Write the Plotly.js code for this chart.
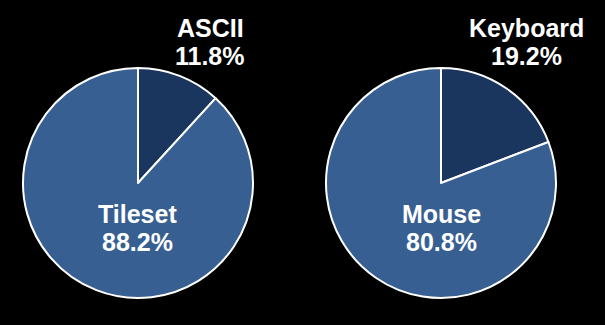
<!DOCTYPE html>
<html><head><meta charset="utf-8">
<script src="https://cdn.plot.ly/plotly-3.0.1.min.js"></script>
<style>html,body{margin:0;padding:0;background:#000;}</style>
</head><body><div id="chart" style="width:605px;height:325px;"></div>
<script>
const leftLabels = ['ASCII', 'Tileset'];
const leftValues = [11.8, 88.2];
const rightLabels = ['Keyboard', 'Mouse'];
const rightValues = [19.2, 80.8];
const sliceColors = ['#1b365e', '#385f91'];

const W = 605, H = 325;
const FONT = {family: 'Liberation Sans, Arial, sans-serif', size: 25, color: '#ffffff', weight: 'bold'};

function pie(labels, values, domain) {
  return {
    type: 'pie', labels: labels, values: values, sort: false,
    direction: 'clockwise', rotation: 0, domain: domain,
    textinfo: 'none',
    marker: {colors: sliceColors, line: {color: '#ffffff', width: 2}},
    automargin: false, showlegend: false, hoverinfo: 'none'
  };
}
const data = [
  pie(leftLabels, leftValues, {x: [0.03802, 0.41818], y: [0.08308, 0.79077]}),
  pie(rightLabels, rightValues, {x: [0.53884, 0.91901], y: [0.08308, 0.79077]})
];

function pct(values, i) {
  const s = values.reduce((a, b) => a + b, 0);
  return (values[i] / s * 100).toFixed(1) + '%';
}
// label blocks: [pixel x, pixel y of first line middle]
function labelAnn(text, px, py) {
  return {text: text, x: px / W, y: 1 - py / H, xref: 'paper', yref: 'paper',
          xanchor: 'center', yanchor: 'middle', showarrow: false, font: FONT};
}
function block(labels, values, i, px, py) {
  return [labelAnn(labels[i], px, py), labelAnn(pct(values, i), px, py + 28)];
}
const annotations = [].concat(
  block(leftLabels, leftValues, 0, 210, 28),
  block(leftLabels, leftValues, 1, 137, 214),
  block(rightLabels, rightValues, 0, 526, 28),
  block(rightLabels, rightValues, 1, 441.5, 214)
);

const layout = {
  width: W, height: H, paper_bgcolor: '#000000', plot_bgcolor: '#000000',
  margin: {l: 0, r: 0, t: 0, b: 0}, showlegend: false, annotations: annotations
};
Plotly.newPlot('chart', data, layout, {displayModeBar: false, staticPlot: true});
</script></body></html>
